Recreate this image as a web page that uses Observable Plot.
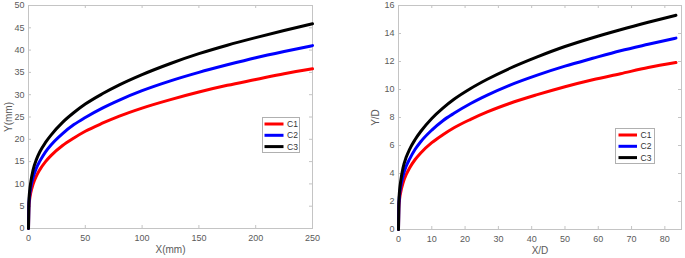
<!DOCTYPE html>
<html><head><meta charset="utf-8">
<script src="https://cdn.jsdelivr.net/npm/d3@7"></script>
<script src="https://cdn.jsdelivr.net/npm/@observablehq/plot@0.6"></script>
<style>
body{margin:0;background:#fff;}
#wrap{position:relative;width:685px;height:258px;overflow:hidden;font-family:"Liberation Sans",Arial,sans-serif;}
.panel{position:absolute;top:0;}
.legend{position:absolute;}
</style></head><body><div id="wrap"></div>
<script>
const seriesNames = ["C1", "C2", "C3"];
const seriesColors = ["#ff0000", "#0000ff", "#000000"];

// Left panel: X(mm) vs Y(mm)
const xMm = [0, 0.3, 1, 2, 4, 7, 10, 15, 20, 30, 40, 50, 65, 80, 100, 125, 150, 175, 200, 225, 250];
const c1Mm = [0, 4.5, 6.5, 8.0, 9.9, 11.8, 13.2, 15.0, 16.4, 18.6, 20.3, 21.8, 23.6, 25.2, 27.0, 28.9, 30.6, 32.1, 33.4, 34.7, 35.8];
const c2Mm = [0, 5.1, 7.4, 9.2, 11.4, 13.6, 15.1, 17.2, 18.8, 21.3, 23.3, 24.9, 27.0, 28.8, 30.9, 33.1, 35.0, 36.7, 38.3, 39.7, 41.0];
const c3Mm = [0, 5.8, 8.4, 10.4, 13.1, 15.5, 17.2, 19.3, 21.0, 23.8, 26.0, 27.9, 30.2, 32.2, 34.5, 37.0, 39.2, 41.1, 42.8, 44.4, 45.9];
const xTicksMm = [0, 50, 100, 150, 200, 250];
const yTicksMm = [0, 5, 10, 15, 20, 25, 30, 35, 40, 45, 50];

// Right panel: X/D vs Y/D
const xD = [0, 0.1, 0.33, 0.67, 1.33, 2.33, 3.33, 5, 6.67, 10, 13.33, 16.67, 21.67, 26.67, 33.33, 41.67, 50, 58.33, 66.67, 75, 83.33];
const c1D = [0, 1.5, 2.17, 2.67, 3.3, 3.93, 4.4, 5.0, 5.47, 6.2, 6.77, 7.27, 7.87, 8.4, 9.0, 9.63, 10.2, 10.7, 11.13, 11.57, 11.93];
const c2D = [0, 1.7, 2.47, 3.07, 3.8, 4.53, 5.03, 5.73, 6.27, 7.1, 7.77, 8.3, 9.0, 9.6, 10.3, 11.03, 11.67, 12.23, 12.77, 13.23, 13.67];
const c3D = [0, 1.93, 2.8, 3.47, 4.37, 5.17, 5.73, 6.43, 7.0, 7.93, 8.67, 9.3, 10.07, 10.73, 11.5, 12.33, 13.07, 13.7, 14.27, 14.8, 15.3];
const xTicksD = [0, 10, 20, 30, 40, 50, 60, 70, 80];
const yTicksD = [0, 2, 4, 6, 8, 10, 12, 14, 16];

function rowsOf(xs, seriesYs) {
  const rows = [];
  seriesYs.forEach((ys, i) => xs.forEach((x, j) => rows.push({x, y: ys[j], s: seriesNames[i]})));
  return rows;
}

const frameColor = "#c4c4c4";
const textColor = "#5a5a5a";
const font = "'Liberation Sans', Arial, sans-serif";

function panel(o) {
  const H = 258;
  const innerW = o.width - o.ml - o.mr, innerH = H - o.mt - o.mb;
  return Plot.plot({
    width: o.width, height: H,
    marginLeft: o.ml, marginRight: o.mr, marginTop: o.mt, marginBottom: o.mb,
    style: {fontFamily: font, fontSize: "9px", color: textColor, background: "transparent", overflow: "visible"},
    x: {domain: o.xDomain},
    y: {domain: o.yDomain},
    color: {domain: seriesNames, range: seriesColors},
    marks: [
      Plot.frame({stroke: frameColor}),
      Plot.tickX(o.xTicks, {x: d => d, insetTop: innerH - 3, stroke: frameColor}),
      Plot.tickX(o.xTicks, {x: d => d, insetBottom: innerH - 3, stroke: frameColor}),
      Plot.tickY(o.yTicks, {y: d => d, insetRight: innerW - 3, stroke: frameColor}),
      Plot.tickY(o.yTicks, {y: d => d, insetLeft: innerW - 3, stroke: frameColor}),
      Plot.axisX(o.xTicks, {tickSize: 0, tickPadding: 6, label: null, fill: textColor}),
      Plot.axisY(o.yTicks, {tickSize: 0, tickPadding: 4, label: null, fill: textColor}),
      Plot.line(o.rows, {x: "x", y: "y", z: "s", stroke: "s", strokeWidth: 3, curve: "monotone-x"}),
      Plot.text([o.xLabel], {text: d => d, frameAnchor: "bottom", lineAnchor: "middle", textAnchor: "middle", dy: 21, fontSize: 10, fill: textColor}),
      Plot.text([o.yLabel], {text: d => d, frameAnchor: "left", lineAnchor: "middle", textAnchor: "middle", dx: o.yLabelDx, rotate: -90, fontSize: 10, fill: textColor})
    ]
  });
}

function legend(box) {
  const ns = "http://www.w3.org/2000/svg";
  const svg = document.createElementNS(ns, "svg");
  svg.setAttribute("width", box.w); svg.setAttribute("height", box.h);
  svg.setAttribute("class", "legend");
  svg.style.left = box.left + "px"; svg.style.top = box.top + "px";
  const r = document.createElementNS(ns, "rect");
  r.setAttribute("x", 0.5); r.setAttribute("y", 0.5);
  r.setAttribute("width", box.w - 1); r.setAttribute("height", box.h - 1);
  r.setAttribute("fill", "#fff"); r.setAttribute("stroke", "#b0b0b0");
  svg.appendChild(r);
  seriesNames.forEach((name, i) => {
    const y = box.y0 + i * box.dy;
    const l = document.createElementNS(ns, "line");
    l.setAttribute("x1", box.lx1); l.setAttribute("x2", box.lx2);
    l.setAttribute("y1", y); l.setAttribute("y2", y);
    l.setAttribute("stroke", seriesColors[i]); l.setAttribute("stroke-width", 3);
    svg.appendChild(l);
    const t = document.createElementNS(ns, "text");
    t.setAttribute("x", box.tx); t.setAttribute("y", y);
    t.setAttribute("dy", "0.35em");
    t.setAttribute("font-size", "8.5px"); t.setAttribute("font-family", font);
    t.setAttribute("fill", "#333");
    t.textContent = name;
    svg.appendChild(t);
  });
  return svg;
}

const wrap = document.getElementById("wrap");

const left = panel({
  rows: rowsOf(xMm, [c1Mm, c2Mm, c3Mm]),
  xDomain: [0, 250], yDomain: [0, 50],
  xTicks: xTicksMm, yTicks: yTicksMm,
  xLabel: "X(mm)", yLabel: "Y(mm)", yLabelDx: -20,
  width: 340, ml: 28, mr: 28, mt: 5, mb: 30
});
left.classList.add("panel"); left.style.left = "0px";
wrap.appendChild(left);

const right = panel({
  rows: rowsOf(xD, [c1D, c2D, c3D]),
  xDomain: [0, 85], yDomain: [0, 16],
  xTicks: xTicksD, yTicks: yTicksD,
  xLabel: "X/D", yLabel: "Y/D", yLabelDx: -23,
  width: 345, ml: 58, mr: 4, mt: 5, mb: 29
});
right.classList.add("panel"); right.style.left = "340px";
wrap.appendChild(right);

wrap.appendChild(legend({left: 262, top: 117, w: 38, h: 36, y0: 7, dy: 11.3, lx1: 2.5, lx2: 21.5, tx: 25}));
wrap.appendChild(legend({left: 615, top: 128, w: 40, h: 36, y0: 7, dy: 11.3, lx1: 3.5, lx2: 22, tx: 25.5}));
</script>
</body></html>
